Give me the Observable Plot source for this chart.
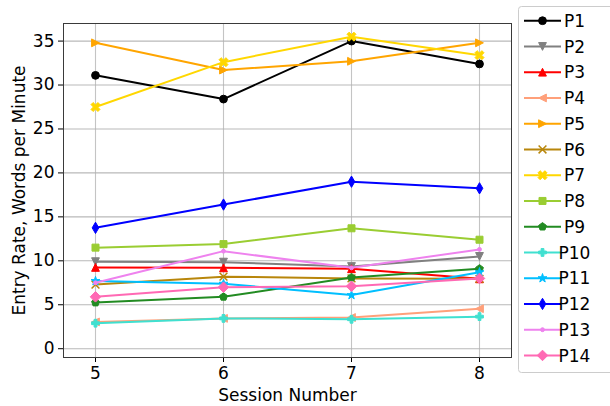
<!DOCTYPE html>
<html>
<head>
<meta charset="utf-8">
<script src="https://cdn.jsdelivr.net/npm/d3@7"></script>
<script src="https://cdn.jsdelivr.net/npm/@observablehq/plot@0.6"></script>
<style>
  html, body { margin: 0; padding: 0; background: #fff; }
  #chart { width: 610px; height: 406px; position: relative; overflow: hidden; }
</style>
</head>
<body>
<div id="chart"></div>
<script>
// ---- data ----
const sessions = [5, 6, 7, 8];
const names = ["P1","P2","P3","P4","P5","P6","P7","P8","P9","P10","P11","P12","P13","P14"];
const P1  = [31.1, 28.4, 35.0, 32.4];
const P2  = [9.9, 9.85, 9.35, 10.5];
const P3  = [9.25, 9.2, 9.1, 7.95];
const P4  = [3.05, 3.45, 3.55, 4.55];
const P5  = [34.8, 31.7, 32.7, 34.8];
const P6  = [7.3, 8.2, 8.0, 7.95];
const P7  = [27.5, 32.6, 35.5, 33.4];
const P8  = [11.5, 11.9, 13.7, 12.4];
const P9  = [5.25, 5.9, 8.1, 9.1];
const P10 = [2.9, 3.45, 3.35, 3.65];
const P11 = [7.7, 7.4, 6.1, 8.7];
const P12 = [13.75, 16.4, 19.0, 18.25];
const P13 = [7.5, 11.1, 9.2, 11.3];
const P14 = [5.9, 7.0, 7.1, 8.0];
const values = [P1,P2,P3,P4,P5,P6,P7,P8,P9,P10,P11,P12,P13,P14];
const colors = ["#000000","#808080","#ff0000","#ffa07a","#ffa500","#b8860b","#ffd700","#9acd32","#228b22","#40e0d0","#00bfff","#0000ff","#ee82ee","#ff69b4"];
const markerNames = ["o","v","^","<",">","x","X","s","p","P","*","d",".","D"];
const yTicks = [0, 5, 10, 15, 20, 25, 30, 35];

// ---- marker shapes (matplotlib-like) ----
const H = 3.9;
function poly(pts) {
  return { draw(ctx) {
    ctx.moveTo(pts[0][0], pts[0][1]);
    for (let i = 1; i < pts.length; i++) ctx.lineTo(pts[i][0], pts[i][1]);
    ctx.closePath();
  }};
}
function circ(r) { return { draw(ctx) { ctx.moveTo(r, 0); ctx.arc(0, 0, r, 0, 2 * Math.PI); } }; }
function plusPts(a, t, rot) {
  const base = [[-t,-a],[t,-a],[t,-t],[a,-t],[a,t],[t,t],[t,a],[-t,a],[-t,t],[-a,t],[-a,-t],[-t,-t]];
  const c = Math.cos(rot), s = Math.sin(rot);
  return base.map(([x,y]) => [x*c - y*s, x*s + y*c]);
}
function regPts(n, r, start) {
  return d3.range(n).map(k => { const a = start + k * 2 * Math.PI / n; return [r*Math.cos(a), r*Math.sin(a)]; });
}
function starPts(ro, ri) {
  return d3.range(10).map(k => { const a = -Math.PI/2 + k * Math.PI / 5; const r = k % 2 ? ri : ro; return [r*Math.cos(a), r*Math.sin(a)]; });
}
const shapes = {
  "o": circ(H),
  "v": poly([[0,H],[-H,-H],[H,-H]]),
  "^": poly([[0,-H],[-H,H],[H,H]]),
  "<": poly([[-H,0],[H,-H],[H,H]]),
  ">": poly([[H,0],[-H,-H],[-H,H]]),
  "x": { draw(ctx) { ctx.moveTo(-H,-H); ctx.lineTo(H,H); ctx.moveTo(-H,H); ctx.lineTo(H,-H); } },
  "X": poly(plusPts(H*1.25, H*0.38, Math.PI/4)),
  "s": poly([[-H*0.9,-H*0.9],[H*0.9,-H*0.9],[H*0.9,H*0.9],[-H*0.9,H*0.9]]),
  "p": poly(regPts(5, H*1.05, -Math.PI/2)),
  "P": poly(plusPts(H, H*0.36, 0)),
  "*": poly(starPts(H*1.2, H*1.2*0.382)),
  "d": poly([[0,-H*1.45],[H*0.85,0],[0,H*1.45],[-H*0.85,0]]),
  ".": circ(H*0.5),
  "D": poly([[0,-H*1.35],[H*1.35,0],[0,H*1.35],[-H*1.35,0]])
};

// ---- marks ----
const marks = [
  Plot.gridX(sessions, {stroke: "#b0b0b0", strokeOpacity: 0.75, strokeWidth: 1.1}),
  Plot.gridY(yTicks, {stroke: "#b0b0b0", strokeOpacity: 0.9, strokeWidth: 1.1}),
  Plot.axisX(sessions, {tickSize: 5, tickPadding: 4, label: null, fontSize: 17, tickFormat: d3.format("d")}),
  Plot.axisY(yTicks, {tickSize: 5, tickPadding: 4, label: null, fontSize: 17, tickFormat: d3.format("d")}),
];
values.forEach((vals, i) => {
  const rows = sessions.map((s, j) => ({session: s, value: vals[j]}));
  marks.push(Plot.line(rows, {x: "session", y: "value", stroke: colors[i], strokeWidth: 2}));
  marks.push(Plot.dot(rows, {
    x: "session", y: "value", symbol: shapes[markerNames[i]],
    fill: markerNames[i] === "x" ? "none" : colors[i],
    stroke: colors[i], strokeWidth: markerNames[i] === "x" ? 1.5 : 1
  }));
});
marks.push(Plot.frame({stroke: "#3a3a3a", strokeWidth: 1}));
marks.push(Plot.text(["Session Number"], {frameAnchor: "bottom", dy: 43.5, lineAnchor: "bottom", textAnchor: "middle", fontSize: 17, fill: "black"}));
marks.push(Plot.text(["Entry Rate, Words per Minute"], {frameAnchor: "left", dx: -39, rotate: -90, lineAnchor: "bottom", textAnchor: "middle", fontSize: 17, fill: "black"}));

const svg = Plot.plot({
  width: 610,
  height: 406,
  marginLeft: 63,
  marginRight: 99,
  marginTop: 23,
  marginBottom: 49,
  style: {fontFamily: "DejaVu Sans", fontSize: "17px", color: "black", background: "white"},
  x: {domain: [4.75, 8.25]},
  y: {domain: [-1, 37]},
  marks
});
document.getElementById("chart").appendChild(svg);

// ---- legend ----
const g = d3.select(svg).append("g");
g.append("rect").attr("x", 518.5).attr("y", 6.5).attr("width", 110).attr("height", 366)
  .attr("rx", 3).attr("fill", "white").attr("fill-opacity", 0.85).attr("stroke", "#cccccc");
names.forEach((n, i) => {
  const y = 20.7 + i * 25.75;
  const e = g.append("g").attr("transform", `translate(0,${y})`);
  e.append("line").attr("x1", 524).attr("x2", 561).attr("y1", 0).attr("y2", 0)
    .attr("stroke", colors[i]).attr("stroke-width", 2);
  const p = d3.path();
  shapes[markerNames[i]].draw(p, 0);
  e.append("path").attr("d", p.toString()).attr("transform", "translate(542.5,0)")
    .attr("fill", markerNames[i] === "x" ? "none" : colors[i])
    .attr("stroke", colors[i]).attr("stroke-width", markerNames[i] === "x" ? 1.5 : 1);
  e.append("text").attr("x", 574.5).attr("y", 0).attr("dy", "0.36em")
    .attr("font-size", 17).attr("fill", "black").text(n);
});
</script>
</body>
</html>
